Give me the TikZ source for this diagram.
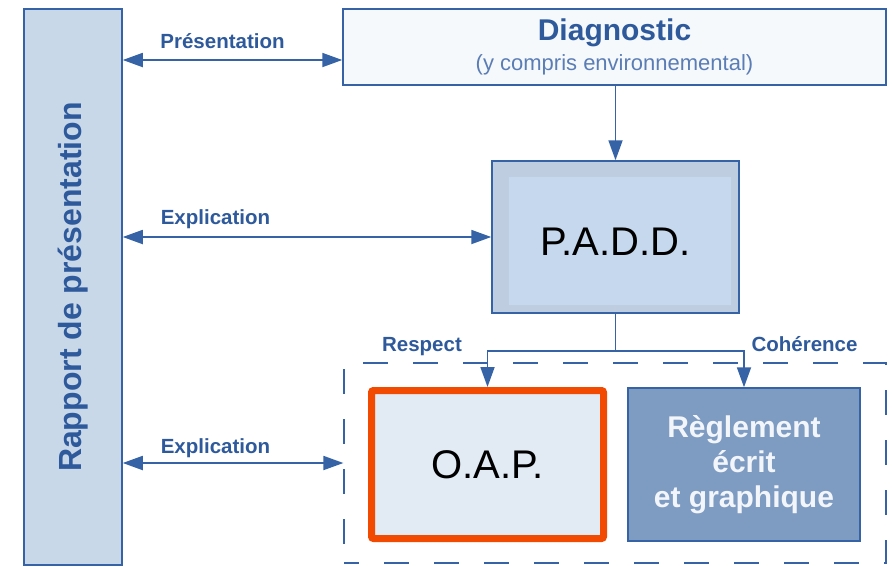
\documentclass[tikz,border=0pt]{standalone}
\usepackage{fontspec}
\setmainfont{Liberation Sans}
\usepackage{xcolor}
\usetikzlibrary{arrows.meta,calc}
\definecolor{trait}{HTML}{3563A6}
\definecolor{texte}{HTML}{2E5A9C}
\definecolor{soustexte}{HTML}{5A7DB5}
\definecolor{barre}{HTML}{C9D8E8}
\definecolor{fonddiag}{HTML}{F6F9FC}
\definecolor{paddfond}{HTML}{BFCDE1}
\definecolor{paddclair}{HTML}{C6D8ED}
\definecolor{oapfond}{HTML}{E2EAF4}
\definecolor{reglfond}{HTML}{7E9BC2}
\definecolor{rouge}{HTML}{F24A00}
\definecolor{blanc}{HTML}{F2F5FA}

\begin{document}
\begin{tikzpicture}[x=1pt,y=-1pt,
			boite/.style={shape=rectangle, draw=trait, line width=1.5pt, inner sep=0pt},
			etiq/.style={text=texte, font=\fontsize{20.5}{24}\selectfont\bfseries, inner sep=0pt, anchor=base},
			fleche/.style={draw=trait, line width=1.8pt, -{Triangle[length=20pt,width=14pt]}},
			double fleche/.style={fleche, {Triangle[length=20pt,width=14pt]}-{Triangle[length=20pt,width=14pt]}}]
				\useasboundingbox (0,0) rectangle (892,566);

				\node[boite, fill=barre, minimum width=98pt, minimum height=556pt,
					label={[rotate=90, text=texte, font=\fontsize{32}{36}\selectfont\bfseries]center:Rapport de présentation}] (rapport) at (73,287) {};
				\node[boite, fill=fonddiag, minimum width=543pt, minimum height=76pt, align=center] (diag) at (614.5,47)
					{{\fontsize{30}{30}\selectfont\bfseries\color{texte}Diagnostic}\\[7pt]{\fontsize{22}{22}\selectfont\color{soustexte}(y compris environnemental)}};
				\node[boite, fill=paddfond, minimum width=247pt, minimum height=152pt, font=\fontsize{40}{40}\selectfont, text height=37pt, text depth=0pt,
					path picture={\fill[paddclair] ($(path picture bounding box.south west)+(17pt,8pt)$) rectangle ($(path picture bounding box.north east)+(-8pt,-16pt)$);}] (padd) at (615.5,237) {P.A.D.D.};

				\node[boite, draw=trait, line width=1.2pt, dash pattern=on 25pt off 25pt, dash phase=10pt, minimum width=542pt, minimum height=200pt] (cadre) at (615,463) {};
				\node[boite, draw=rouge, line width=7pt, rounded corners=2pt, fill=oapfond, minimum width=232pt, minimum height=148pt, font=\fontsize{40}{40}\selectfont] (oap) at (487.5,464.5) {O.A.P.};
				\node[boite, fill=reglfond, minimum width=232pt, minimum height=153pt, text=blanc, align=center, font=\fontsize{30}{35}\selectfont\bfseries] (regl) at (744,464.5) {Règlement\\écrit\\et graphique};

				\coordinate (fourche) at (padd.south |- 0,351);

				\draw[double fleche] (rapport.east |- 0,60) -- (diag.west |- 0,60);
				\draw[fleche] (padd.north |- diag.south) -- (padd.north);
				\draw[double fleche] (rapport.east |- padd.west) -- (padd.west);
				\draw[double fleche] (rapport.east |- cadre.west) -- (cadre.west);
				\draw[draw=trait, line width=1.8pt] (padd.south) -- (fourche);
				\draw[fleche] (fourche) -| (oap.north);
				\draw[fleche] (fourche) -| (regl.north);

				\node[etiq] (lpres) at (222.5,48) {Présentation};
				\node[etiq] (lexpl) at (215.5,224) {Explication};
				\node[etiq] (lexpl2) at (215.5,453) {Explication};
				\node[etiq] (lresp) at (422,351) {Respect};
				\node[etiq] (lcoh) at (804.5,351) {Cohérence};
\end{tikzpicture}
\end{document}
